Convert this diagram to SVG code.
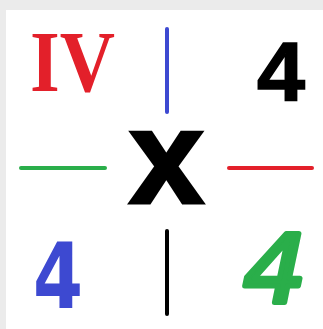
<svg xmlns="http://www.w3.org/2000/svg" width="323" height="329" viewBox="0 0 323 329">
<style>
.ln{stroke-width:4;stroke-linecap:round;fill:none}
.sans{font-family:"Liberation Sans",Arial,sans-serif;font-weight:bold}
</style>
<rect x="0" y="0" width="323" height="329" fill="#ebebeb"/>
<rect x="6" y="10" width="317" height="319" fill="#ffffff"/>
<g id="connectors">
<line class="ln" x1="167" y1="29" x2="167" y2="112" stroke="#3d49d1"/>
<line class="ln" x1="167" y1="231" x2="167" y2="314" stroke="#000000"/>
<line class="ln" x1="21" y1="168" x2="105" y2="168" stroke="#2aae4a"/>
<line class="ln" x1="229" y1="168" x2="312" y2="168" stroke="#e3202a"/>
</g>
<g id="node-iv">
<text x="30" y="91" font-family="'Liberation Serif','Times New Roman',serif" font-weight="bold" font-size="87" fill="#e3202a" textLength="85" lengthAdjust="spacingAndGlyphs">IV</text>
</g>
<g id="node-4-top">
<text class="sans" x="257" y="101" font-size="84" fill="#000000" stroke="#000" stroke-width="1.5" textLength="48" lengthAdjust="spacingAndGlyphs">4</text>
</g>
<g id="node-x">
<text class="sans" x="129" y="203" font-size="134" fill="#000000" stroke="#000" stroke-width="3" textLength="75" lengthAdjust="spacingAndGlyphs">x</text>
</g>
<g id="node-4-blue">
<text x="33" y="308" font-family="'DejaVu Sans',sans-serif" font-weight="bold" font-size="90" fill="#3d49d1" textLength="50" lengthAdjust="spacingAndGlyphs">4</text>
</g>
<g id="node-4-green">
<text x="243" y="302" font-family="'DejaVu Sans',sans-serif" font-style="oblique" font-size="94" fill="#2aae4a" stroke="#2aae4a" stroke-width="5" stroke-linejoin="round" textLength="64" lengthAdjust="spacingAndGlyphs">4</text>
</g>
</svg>
